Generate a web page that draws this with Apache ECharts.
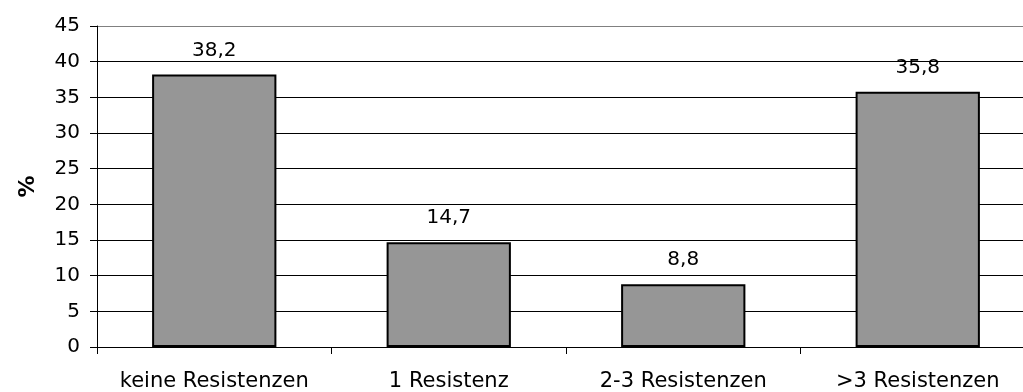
<!DOCTYPE html>
<html>
<head>
<meta charset="utf-8">
<script src="https://cdn.jsdelivr.net/npm/echarts@6/dist/echarts.min.js"></script>
<style>
html,body{margin:0;padding:0;background:#fff;overflow:hidden;width:1023px;height:392px;}
#chart{width:1035px;height:392px;}
</style>
</head>
<body>
<div id="chart"></div>
<script>
const categories = ['keine Resistenzen', '1 Resistenz', '2-3 Resistenzen', '>3 Resistenzen'];
const values = [38.2, 14.7, 8.8, 35.8];
const yAxisName = '%';

const chart = echarts.init(document.getElementById('chart'), null, {renderer: 'canvas'});
const font = '"DejaVu Sans", sans-serif';
chart.setOption({
  animation: false,
  backgroundColor: '#fff',
  grid: {left: 97, right: 0, top: 26, bottom: 43, containLabel: false},
  xAxis: {
    type: 'category',
    data: categories,
    boundaryGap: true,
    axisLine: {lineStyle: {color: '#000', width: 1}},
    axisTick: {show: true, alignWithLabel: false, length: 7, lineStyle: {color: '#000'}},
    axisLabel: {color: '#000', fontFamily: font, fontSize: 21, margin: 24, interval: 0},
    splitLine: {show: false}
  },
  yAxis: {
    type: 'value',
    min: 0, max: 45, interval: 5,
    name: yAxisName,
    nameLocation: 'middle',
    nameGap: 58,
    nameRotate: 90,
    nameTextStyle: {color: '#000', fontFamily: font, fontSize: 22, fontWeight: 'bold'},
    axisLine: {show: true, lineStyle: {color: '#000', width: 1}},
    axisTick: {show: true, length: 7, lineStyle: {color: '#000'}},
    axisLabel: {color: '#000', fontFamily: font, fontSize: 20, margin: 17},
    splitLine: {show: true, lineStyle: {color: ['#000','#000','#000','#000','#000','#000','#000','#000','#000','#808080'], width: 1}}
  },
  series: [{
    type: 'bar',
    data: values,
    barWidth: '53%',
    itemStyle: {color: '#969696', borderColor: '#000', borderWidth: 2},
    label: {
      show: true,
      position: 'top',
      distance: 14,
      color: '#000',
      fontFamily: font,
      fontSize: 20,
      formatter: p => String(p.value).replace('.', ',')
    }
  }]
});
</script>
</body>
</html>
